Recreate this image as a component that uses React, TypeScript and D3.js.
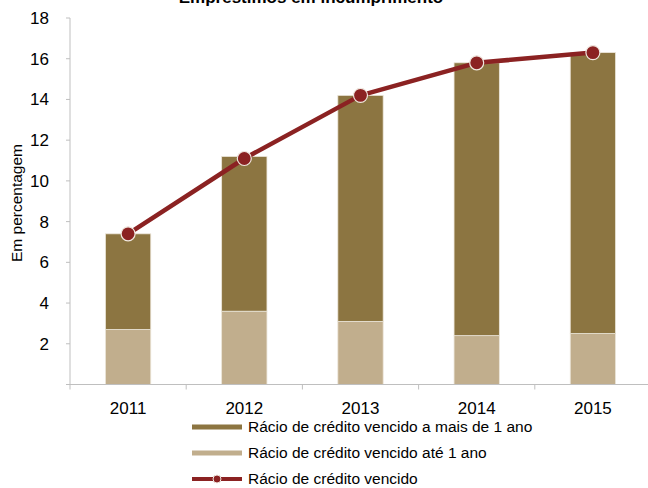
import React, { useEffect, useRef } from "react";
import * as d3 from "d3";

const years = ["2011", "2012", "2013", "2014", "2015"];
const upTo1Year = [2.7, 3.6, 3.1, 2.4, 2.5];
const over1Year = [4.7, 7.6, 11.1, 13.4, 13.8];
const overdueRatio = [7.4, 11.1, 14.2, 15.8, 16.3];
const yTicks = [2, 4, 6, 8, 10, 12, 14, 16, 18];
const legendLabels = [
  "Rácio de crédito vencido a mais de 1 ano",
  "Rácio de crédito vencido até 1 ano",
  "Rácio de crédito vencido",
];

const DARK = "#8c7541";
const LIGHT = "#c1ae8d";
const RED = "#8b2222";
const AXIS = "#bfbfbf";
const FONT = "Arial, 'Liberation Sans', sans-serif";

export default function App() {
  const ref = useRef<SVGSVGElement>(null);
  useEffect(() => {
    const svg = d3.select(ref.current);
    svg.selectAll("*").remove();
    const left = 70, right = 651, top = 18, bottom = 384.5;
    const x = d3.scaleBand().domain(years).range([left, right]).paddingInner(0.61).paddingOuter(0.305);
    const xc = (d: string) => (x(d) as number) + x.bandwidth() / 2;
    const y = d3.scaleLinear().domain([0, 18]).range([bottom, top]);

    // title (cut off at the top, as in the reference)
    svg.append("text").attr("x", 311).attr("y", 3).attr("text-anchor", "middle")
      .attr("font-family", FONT).attr("font-size", 17).attr("font-weight", "bold")
      .text("Empréstimos em incumprimento");

    // bars
    const g = svg.append("g");
    years.forEach((yr, i) => {
      g.append("rect").attr("x", x(yr) as number).attr("width", x.bandwidth())
        .attr("y", y(upTo1Year[i])).attr("height", y(0) - y(upTo1Year[i]))
        .attr("fill", LIGHT).attr("stroke", "#ece6da").attr("stroke-width", 0.8);
      const tot = upTo1Year[i] + over1Year[i];
      g.append("rect").attr("x", x(yr) as number).attr("width", x.bandwidth())
        .attr("y", y(tot)).attr("height", y(upTo1Year[i]) - y(tot))
        .attr("fill", DARK).attr("stroke", "#ece6da").attr("stroke-width", 0.8);
    });

    // axes
    svg.append("line").attr("x1", left).attr("x2", left).attr("y1", top).attr("y2", bottom)
      .attr("stroke", AXIS).attr("stroke-width", 1);
    svg.append("line").attr("x1", left - 4).attr("x2", right).attr("y1", bottom).attr("y2", bottom)
      .attr("stroke", AXIS).attr("stroke-width", 1);
    yTicks.forEach((t) => {
      svg.append("line").attr("x1", left - 4).attr("x2", left).attr("y1", y(t)).attr("y2", y(t))
        .attr("stroke", AXIS);
      svg.append("text").attr("x", 49).attr("y", y(t)).attr("dy", "0.35em").attr("text-anchor", "end")
        .attr("font-family", FONT).attr("font-size", 17).attr("fill", "#000").text(String(t));
    });
    const bounds = [left, ...years.map((yr) => (x(yr) as number) + x.bandwidth() + x.step() * x.paddingInner() / 2)];
    bounds.forEach((bx) => {
      svg.append("line").attr("x1", bx).attr("x2", bx).attr("y1", bottom).attr("y2", bottom + 5)
        .attr("stroke", AXIS);
    });
    years.forEach((yr) => {
      svg.append("text").attr("x", xc(yr)).attr("y", 414).attr("text-anchor", "middle")
        .attr("font-family", FONT).attr("font-size", 17).text(yr);
    });
    svg.append("text").attr("transform", `translate(22,203) rotate(-90)`).attr("text-anchor", "middle")
      .attr("font-family", FONT).attr("font-size", 15.5).text("Em percentagem");

    // line
    const line = d3.line<number>().x((_, i) => xc(years[i])).y((d) => y(d));
    svg.append("path").attr("d", line(overdueRatio) as string).attr("fill", "none")
      .attr("stroke", RED).attr("stroke-width", 4.5).attr("stroke-linejoin", "round");
    overdueRatio.forEach((v, i) => {
      svg.append("circle").attr("cx", xc(years[i])).attr("cy", y(v)).attr("r", 7)
        .attr("fill", RED).attr("stroke", "#f0e8e0").attr("stroke-width", 1.2);
    });

    // legend
    const lx1 = 192, lx2 = 242, ly = [427, 453, 479];
    svg.append("line").attr("x1", lx1).attr("x2", lx2).attr("y1", ly[0]).attr("y2", ly[0])
      .attr("stroke", DARK).attr("stroke-width", 5);
    svg.append("line").attr("x1", lx1).attr("x2", lx2).attr("y1", ly[1]).attr("y2", ly[1])
      .attr("stroke", LIGHT).attr("stroke-width", 5);
    svg.append("line").attr("x1", lx1).attr("x2", lx2).attr("y1", ly[2]).attr("y2", ly[2])
      .attr("stroke", RED).attr("stroke-width", 4);
    svg.append("circle").attr("cx", (lx1 + lx2) / 2).attr("cy", ly[2]).attr("r", 4)
      .attr("fill", RED).attr("stroke", "#f0e8e0").attr("stroke-width", 1);
    legendLabels.forEach((lab, i) => {
      svg.append("text").attr("x", 248).attr("y", ly[i]).attr("dy", "0.35em")
        .attr("font-family", FONT).attr("font-size", 15.5).text(lab);
    });
  }, []);
  return (
    <svg ref={ref} width={648} height={488}
      style={{ position: "absolute", left: 0, top: 0, background: "#fff" }} />
  );
}
